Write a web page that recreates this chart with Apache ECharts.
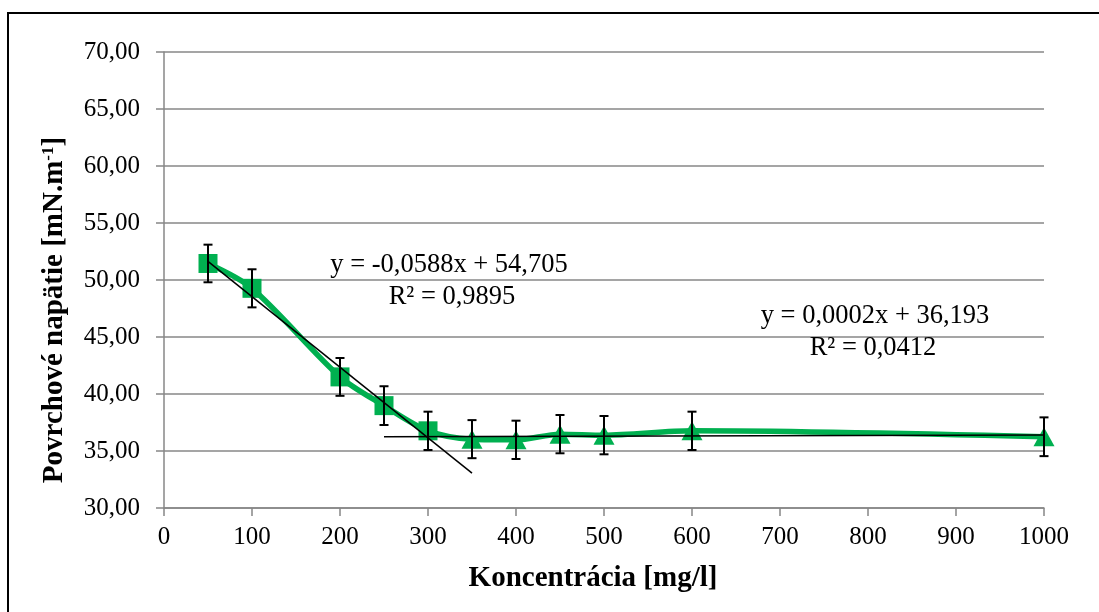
<!DOCTYPE html>
<html>
<head>
<meta charset="utf-8">
<title>Povrchové napätie</title>
<script src="https://cdn.jsdelivr.net/npm/echarts@6/dist/echarts.min.js"></script>
<style>
  html, body { margin: 0; padding: 0; background: #fff; }
  #chart { width: 1099px; height: 612px; }
</style>
</head>
<body>
<div id="chart"></div>
<script>
// koncentracia [mg/l] a namerane povrchove napatie [mN.m-1]
const concentration = [50, 100, 200, 250, 300, 350, 400, 450, 500, 600, 1000];
const tension = [51.45, 49.27, 41.50, 38.98, 36.77, 36.04, 35.98, 36.48, 36.39, 36.77, 36.25];
const tensionError = [1.65, 1.67, 1.66, 1.70, 1.68, 1.67, 1.68, 1.68, 1.68, 1.68, 1.70];
const markerShape = ['rect', 'rect', 'rect', 'rect', 'rect', 'triangle', 'triangle', 'triangle', 'triangle', 'triangle', 'triangle'];

// linearne trendy (sklon, posun, rozsah x)
const trendSlope = [-0.0619, 0.0002];
const trendIntercept = [54.73, 36.193];
const trendFrom = [50, 250];
const trendTo = [350, 1000];
const trendLabel = [
  ['y = -0,0588x + 54,705', 'R² = 0,9895'],
  ['y = 0,0002x + 36,193', 'R² = 0,0412']
];

const xTicks = [0, 1000, 100];
const yTicks = [30, 70, 5];

const green = '#00B050';
const grid = '#878787';
const serif = '"Liberation Serif", "Times New Roman", serif';

let chart = echarts.init(document.getElementById('chart'));

// body meracej krivky, kazdy bod s vlastnym tvarom znacky
let pointData = concentration.map((x, i) => ({
  value: [x, tension[i]],
  symbol: markerShape[i],
  symbolSize: markerShape[i] === 'rect' ? 19 : [21, 19]
}));

let trendSeries = trendSlope.map((k, i) => ({
  type: 'line',
  name: 'trend' + i,
  silent: true,
  symbol: 'none',
  z: 5,
  lineStyle: { color: '#000', width: 1.5 },
  data: [
    [trendFrom[i], k * trendFrom[i] + trendIntercept[i]],
    [trendTo[i], k * trendTo[i] + trendIntercept[i]]
  ]
}));

let errorData = concentration.map((x, i) => [x, tension[i], tensionError[i]]);

function labelText(text, x, y) {
  return {
    type: 'text', x: x, y: y, z: 10,
    style: {
      text: text, fill: '#000', fontSize: 26.5, fontFamily: serif,
      textAlign: 'center', textVerticalAlign: 'middle',
      align: 'center', verticalAlign: 'middle'
    }
  };
}

chart.setOption({
  backgroundColor: '#fff',
  animation: false,
  grid: { left: 164, right: 55, top: 52, bottom: 104 },
  xAxis: {
    type: 'value',
    min: xTicks[0], max: xTicks[1], interval: xTicks[2],
    axisLine: { lineStyle: { color: grid, width: 1.5 } },
    axisTick: { show: true, inside: false, length: 8, lineStyle: { color: grid, width: 1.5 } },
    axisLabel: { color: '#000', fontSize: 25, fontFamily: serif, margin: 17, formatter: v => String(v) },
    splitLine: { show: false }
  },
  yAxis: {
    type: 'value',
    min: yTicks[0], max: yTicks[1], interval: yTicks[2],
    axisLine: { show: true, lineStyle: { color: grid, width: 1.5 } },
    axisTick: { show: true, inside: false, length: 8, lineStyle: { color: grid, width: 1.5 } },
    axisLabel: {
      color: '#000', fontSize: 25, fontFamily: serif, margin: 24,
      formatter: v => v.toFixed(2).replace('.', ',')
    },
    splitLine: { show: true, lineStyle: { color: grid, width: 1.5 } }
  },
  graphic: [
    {
      type: 'rect', z: -1, silent: true,
      shape: { x: 8, y: 13, width: 1200, height: 700 },
      style: { fill: 'none', stroke: '#000', lineWidth: 2 }
    },
    labelText(trendLabel[0][0], 449, 265),
    labelText(trendLabel[0][1], 452, 297),
    labelText(trendLabel[1][0], 875, 316),
    labelText(trendLabel[1][1], 873, 348),
    {
      type: 'text', x: 593, y: 579, z: 10,
      style: {
        text: 'Koncentrácia [mg/l]', fill: '#000', fontSize: 29, fontWeight: 'bold', fontFamily: serif,
        textAlign: 'center', textVerticalAlign: 'middle', align: 'center', verticalAlign: 'middle'
      }
    },
    {
      type: 'text', x: 55, y: 310, z: 10, rotation: Math.PI / 2,
      style: {
        text: 'Povrchové napätie [mN.m{sup|-1}]', fill: '#000', fontSize: 29, fontWeight: 'bold', fontFamily: serif,
        textAlign: 'center', textVerticalAlign: 'middle', align: 'center', verticalAlign: 'middle',
        rich: {
          sup: { fontSize: 17, fontWeight: 'bold', fontFamily: serif, fill: '#000', verticalAlign: 'top', lineHeight: 30 }
        }
      }
    }
  ],
  series: [
    {
      type: 'line',
      name: 'meranie',
      smooth: 0.3,
      z: 3,
      lineStyle: { color: green, width: 5.5 },
      itemStyle: { color: green },
      data: pointData
    },
    ...trendSeries,
    {
      type: 'custom',
      name: 'chyba',
      z: 8,
      encode: { x: 0, y: 1 },
      data: errorData,
      renderItem: function (params, api) {
        let x = api.value(0), y = api.value(1), e = api.value(2);
        let top = api.coord([x, y + e]);
        let bot = api.coord([x, y - e]);
        let cap = 4.5;
        let style = { stroke: '#000', lineWidth: 2 };
        return {
          type: 'group',
          children: [
            { type: 'line', shape: { x1: top[0], y1: top[1], x2: bot[0], y2: bot[1] }, style: style },
            { type: 'line', shape: { x1: top[0] - cap, y1: top[1], x2: top[0] + cap, y2: top[1] }, style: style },
            { type: 'line', shape: { x1: bot[0] - cap, y1: bot[1], x2: bot[0] + cap, y2: bot[1] }, style: style }
          ]
        };
      }
    }
  ]
});
</script>
</body>
</html>
